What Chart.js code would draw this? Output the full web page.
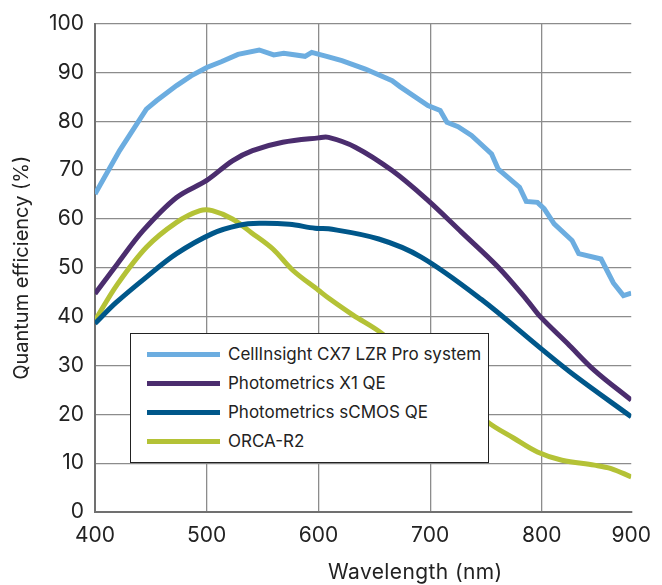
<!DOCTYPE html>
<html lang="en">

<head>
    <meta charset="UTF-8">
    <title>Quantum efficiency</title>
    <script src="https://cdn.jsdelivr.net/npm/chart.js"></script>
    <style>
        body { margin: 0; background: #fff; overflow: hidden; }
        .chart-box { position: relative; width: 662px; height: 585px; overflow: hidden; }
        .chart-box canvas { position: absolute; left: 0; top: 0; }
        .legend {
            position: absolute; left: 130px; top: 333px; width: 359px; height: 130px;
            box-sizing: border-box; border: 1px solid #222; background: #fff;
            font-family: Inter, "Liberation Sans", sans-serif; font-size: 17px; color: #222;
        }
        .legend__item { position: absolute; left: 0; height: 20px; display: flex; align-items: center; white-space: nowrap; }
        .legend__line { width: 73px; height: 5px; margin-left: 16px; margin-right: 8px; }
        .x-title {
            position: absolute; left: 328px; top: 560px; line-height: 24px; letter-spacing: 0.4px;
            font-family: Inter, "Liberation Sans", sans-serif; font-size: 21px; color: #222; white-space: nowrap;
        }
    </style>
</head>

<body>
    <div class="chart-box">
        <canvas id="canvas_qe" width="662" height="585"></canvas>
        <div class="legend" id="div_legend"></div>
        <div class="x-title" id="div_x_title"></div>
    </div>

    <script>
        // valores
        const seriesNames = ['CellInsight CX7 LZR Pro system', 'Photometrics X1 QE', 'Photometrics sCMOS QE', 'ORCA-R2'];
        const seriesColors = ['#6cade0', '#4b2d6e', '#00578a', '#b4c236'];

        const cx7Wavelength = [400, 422, 446, 455, 473, 486, 500, 513, 528, 547, 560, 569, 588, 594, 609, 621, 642, 666, 673, 698, 709, 715, 725, 737, 755, 761, 780, 786, 796, 802, 811, 827, 833, 853, 864, 873, 880];
        const cx7QE = [65.1, 74.0, 82.5, 84.2, 87.3, 89.3, 91.0, 92.2, 93.7, 94.6, 93.6, 93.9, 93.3, 94.1, 93.2, 92.4, 90.7, 88.3, 87.1, 83.2, 82.2, 79.8, 78.9, 77.1, 73.3, 70.2, 66.5, 63.6, 63.4, 62.1, 59.0, 55.6, 52.9, 51.8, 46.9, 44.3, 44.8];

        const x1Wavelength = [400, 420, 443, 473, 500, 523, 541, 568, 600, 609, 633, 666, 698, 728, 761, 787, 799, 823, 847, 880];
        const x1QE = [44.7, 50.8, 57.6, 64.4, 67.9, 71.9, 74.0, 75.7, 76.6, 76.7, 74.7, 69.9, 63.8, 57.3, 50.1, 43.3, 39.9, 34.5, 29.0, 22.9];

        const scmosWavelength = [400, 419, 446, 473, 505, 529, 547, 574, 597, 609, 654, 692, 746, 799, 829, 880];
        const scmosQE = [38.6, 42.9, 48.1, 52.9, 57.0, 58.7, 59.1, 58.9, 58.1, 58.0, 55.9, 52.2, 43.5, 33.5, 28.0, 19.5];

        const orcaWavelength = [400, 420, 446, 473, 494, 505, 523, 540, 559, 577, 600, 609, 631, 657, 751, 775, 796, 818, 847, 862, 880];
        const orcaQE = [39.2, 46.6, 54.2, 59.3, 61.7, 61.7, 60.0, 57.2, 53.9, 49.5, 45.4, 43.8, 40.3, 36.5, 18.5, 15.1, 12.3, 10.6, 9.6, 8.9, 7.2];

        const xTickValues = [400, 500, 600, 700, 800, 880];
        const xTickLabels = ['400', '500', '600', '700', '800', '900'];
        const xAxisTitle = 'Wavelength (nm)';
        const yAxisTitle = 'Quantum efficiency (%)';

        function juntarPontos(xs, ys) {
            const pontos = [];
            for (let i = 0; i < xs.length; i++) {
                pontos.push({ x: xs[i], y: ys[i] });
            }
            return pontos;
        }

        const fonte = { family: 'Inter, "Liberation Sans", sans-serif', size: 21 };
        const corTexto = '#222';
        const corGrade = '#8c8c8c';

        const dados = {
            datasets: [
                { label: seriesNames[0], data: juntarPontos(cx7Wavelength, cx7QE), borderColor: seriesColors[0], tension: 0 },
                { label: seriesNames[1], data: juntarPontos(x1Wavelength, x1QE), borderColor: seriesColors[1], tension: 0.35 },
                { label: seriesNames[2], data: juntarPontos(scmosWavelength, scmosQE), borderColor: seriesColors[2], tension: 0.35 },
                { label: seriesNames[3], data: juntarPontos(orcaWavelength, orcaQE), borderColor: seriesColors[3], tension: 0.35 }
            ]
        };

        new Chart(document.getElementById('canvas_qe'), {
            type: 'line',
            data: dados,
            options: {
                responsive: false,
                animation: false,
                layout: { padding: { top: 23, right: 28, left: 0, bottom: 0 } },
                elements: {
                    point: { radius: 0 },
                    line: { borderWidth: 5, fill: false }
                },
                plugins: { legend: { display: false }, tooltip: { enabled: false } },
                scales: {
                    x: {
                        type: 'linear',
                        min: 400,
                        max: 880,
                        afterBuildTicks: function (axis) {
                            axis.ticks = xTickValues.map(function (v) { return { value: v }; });
                        },
                        afterFit: function (axis) { axis.height = 73; },
                        ticks: {
                            autoSkip: false,
                            maxRotation: 0,
                            padding: 11,
                            font: fonte,
                            color: corTexto,
                            callback: function (valor, i) { return xTickLabels[i]; }
                        },
                        grid: {
                            drawTicks: false,
                            lineWidth: 1.3,
                            color: function (ctx) {
                                return ctx.tick && ctx.tick.value === 880 ? 'rgba(0,0,0,0)' : corGrade;
                            }
                        },
                        border: { color: '#707070', width: 2 }
                    },
                    y: {
                        min: 0,
                        max: 100,
                        afterFit: function (axis) { axis.width = 95; },
                        ticks: { stepSize: 10, padding: 11, font: fonte, color: corTexto },
                        grid: { drawTicks: false, lineWidth: 1.3, color: corGrade },
                        border: { color: '#707070', width: 2 },
                        title: {
                            display: true,
                            text: yAxisTitle,
                            font: { family: fonte.family, size: 20 },
                            color: corTexto,
                            padding: { top: 10, bottom: 0 }
                        }
                    }
                }
            }
        });

        // legenda em html por cima do grafico
        const divLegenda = document.getElementById('div_legend');
        const topos = [10, 39, 68, 97];
        for (let i = 0; i < seriesNames.length; i++) {
            divLegenda.innerHTML += `<div class="legend__item" style="top:${topos[i]}px">
                <span class="legend__line" style="background:${seriesColors[i]}"></span>${seriesNames[i]}</div>`;
        }
        document.getElementById('div_x_title').textContent = xAxisTitle;
    </script>
</body>

</html>
